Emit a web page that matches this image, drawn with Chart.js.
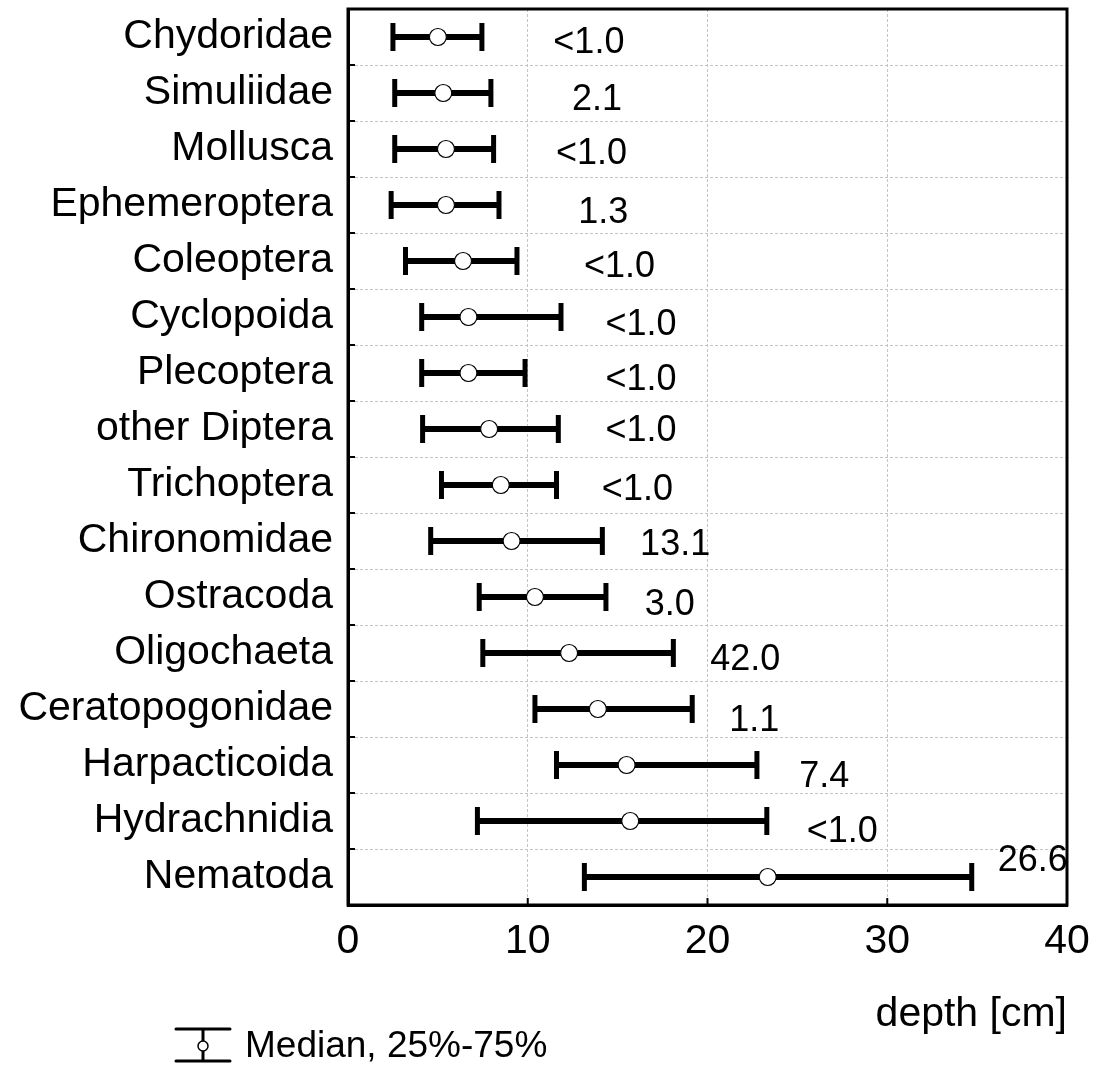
<!DOCTYPE html>
<html>
<head>
<meta charset="utf-8">
<title>depth [cm]</title>
<script src="https://cdn.jsdelivr.net/npm/chart.js@4.4.0/dist/chart.umd.min.js"></script>
<style>
  html, body { margin: 0; padding: 0; background: #fff; }
  #wrap { width: 1093px; height: 1069px; }
</style>
</head>
<body>
<div id="wrap"><canvas id="chart"></canvas></div>
<script>
const taxa = ["Chydoridae", "Simuliidae", "Mollusca", "Ephemeroptera", "Coleoptera", "Cyclopoida",
  "Plecoptera", "other Diptera", "Trichoptera", "Chironomidae", "Ostracoda", "Oligochaeta",
  "Ceratopogonidae", "Harpacticoida", "Hydrachnidia", "Nematoda"];
const q25 = [2.5, 2.6, 2.6, 2.4, 3.2, 4.1, 4.1, 4.15, 5.2, 4.6, 7.3, 7.5, 10.4, 11.6, 7.2, 13.15];
const median = [5.0, 5.3, 5.45, 5.45, 6.4, 6.7, 6.7, 7.85, 8.5, 9.1, 10.4, 12.3, 13.9, 15.5, 15.7, 23.35];
const q75 = [7.45, 7.95, 8.1, 8.4, 9.4, 11.85, 9.85, 11.7, 11.6, 14.15, 14.35, 18.1, 19.15, 22.75, 23.3, 34.7];
// share of the total (%), written next to each taxon
const share = ["<1.0", "2.1", "<1.0", "1.3", "<1.0", "<1.0", "<1.0", "<1.0", "<1.0", "13.1", "3.0", "42.0", "1.1", "7.4", "<1.0", "26.6"];
const shareX = [13.4, 13.85, 13.55, 14.2, 15.1, 16.3, 16.3, 16.3, 16.1, 18.2, 17.9, 22.1, 22.6, 26.5, 27.5, 38.1];
const shareDy = [0.11, 0.12, 0.09, 0.14, 0.11, 0.14, 0.12, 0.04, 0.09, 0.07, 0.14, 0.13, 0.21, 0.21, 0.2, -0.29];

const FONT = "'Liberation Sans', Arial, sans-serif";
Chart.defaults.font.family = FONT;
Chart.defaults.color = "#000";

// text labels, frame, inward ticks and legend
const extras = {
  id: "extras",
  afterDraw(chart) {
    const { ctx, chartArea: a, scales: { x, y } } = chart;
    ctx.save();

    ctx.font = "36px " + FONT;
    ctx.fillStyle = "#000";
    ctx.textAlign = "center";
    ctx.textBaseline = "middle";
    share.forEach((s, i) => {
      ctx.fillText(s, x.getPixelForValue(shareX[i]), y.getPixelForValue(i + shareDy[i]));
    });

    ctx.strokeStyle = "#000";
    ctx.lineWidth = 3;
    ctx.strokeRect(a.left, a.top, a.right - a.left, a.bottom - a.top);

    ctx.lineWidth = 2;
    ctx.beginPath();
    for (let i = 0; i <= taxa.length; i++) {
      const py = y.getPixelForValue(i - 0.5);
      ctx.moveTo(a.left, py);
      ctx.lineTo(a.left + 7, py);
    }
    x.ticks.forEach(t => {
      const px = x.getPixelForValue(t.value);
      ctx.moveTo(px, a.bottom);
      ctx.lineTo(px, a.bottom - 7);
    });
    ctx.stroke();

    // legend
    ctx.lineWidth = 3;
    ctx.lineCap = "round";
    ctx.beginPath();
    ctx.moveTo(176, 1029); ctx.lineTo(230, 1029);
    ctx.moveTo(176, 1061); ctx.lineTo(230, 1061);
    ctx.moveTo(203, 1029); ctx.lineTo(203, 1061);
    ctx.stroke();
    ctx.lineWidth = 1.5;
    ctx.fillStyle = "#fff";
    ctx.beginPath();
    ctx.arc(203, 1046, 5, 0, Math.PI * 2);
    ctx.fill();
    ctx.stroke();
    ctx.fillStyle = "#000";
    ctx.font = "37px " + FONT;
    ctx.textAlign = "left";
    ctx.fillText(chart.data.datasets[0].label, 245, 1047);

    ctx.restore();
  }
};

new Chart(document.getElementById("chart"), {
  type: "bar",
  data: {
    labels: taxa,
    datasets: [
      {
        type: "line",
        label: "Median, 25%-75%",
        data: taxa.map((t, i) => ({ x: median[i], y: t })),
        showLine: false,
        pointRadius: 8.5,
        pointBackgroundColor: "#fff",
        pointBorderColor: "#000",
        pointBorderWidth: 1.2,
        order: 0
      },
      {
        type: "line",
        label: "caps",
        data: taxa.flatMap((t, i) => [{ x: q25[i], y: t }, { x: q75[i], y: t }]),
        showLine: false,
        pointStyle: "line",
        pointRotation: 90,
        pointRadius: 14,
        pointBorderWidth: 5,
        pointBorderColor: "#000",
        order: 1
      },
      {
        type: "bar",
        label: "range",
        data: taxa.map((t, i) => [q25[i], q75[i]]),
        backgroundColor: "#000",
        barThickness: 5.5,
        order: 2
      }
    ]
  },
  options: {
    indexAxis: "y",
    responsive: true,
    maintainAspectRatio: false,
    animation: false,
    layout: { autoPadding: false, padding: { top: 9, right: 26, left: 0, bottom: 0 } },
    plugins: { legend: { display: false }, tooltip: { enabled: false } },
    scales: {
      x: {
        type: "linear",
        min: 0,
        max: 40,
        ticks: { stepSize: 10, font: { size: 41 }, padding: 12 },
        grid: { color: "#c4c4c4", lineWidth: 1, drawTicks: false },
        border: { display: true, color: "#000", width: 3, dash: [3, 2] },
        title: { display: true, text: "depth [cm]", align: "end", font: { size: 41 }, padding: { top: 0, bottom: 30 } },
        afterFit: s => { s.height = 164; s.paddingLeft = 0; s.paddingRight = 0; }
      },
      y: {
        type: "category",
        offset: true,
        ticks: { font: { size: 41 }, autoSkip: false, padding: 15 },
        grid: { offset: true, color: "#c4c4c4", lineWidth: 1, drawTicks: false },
        border: { display: true, color: "#000", width: 3, dash: [3, 2] },
        afterFit: s => { s.width = 348; s.paddingTop = 0; s.paddingBottom = 0; }
      }
    }
  },
  plugins: [extras]
});
</script>
</body>
</html>
